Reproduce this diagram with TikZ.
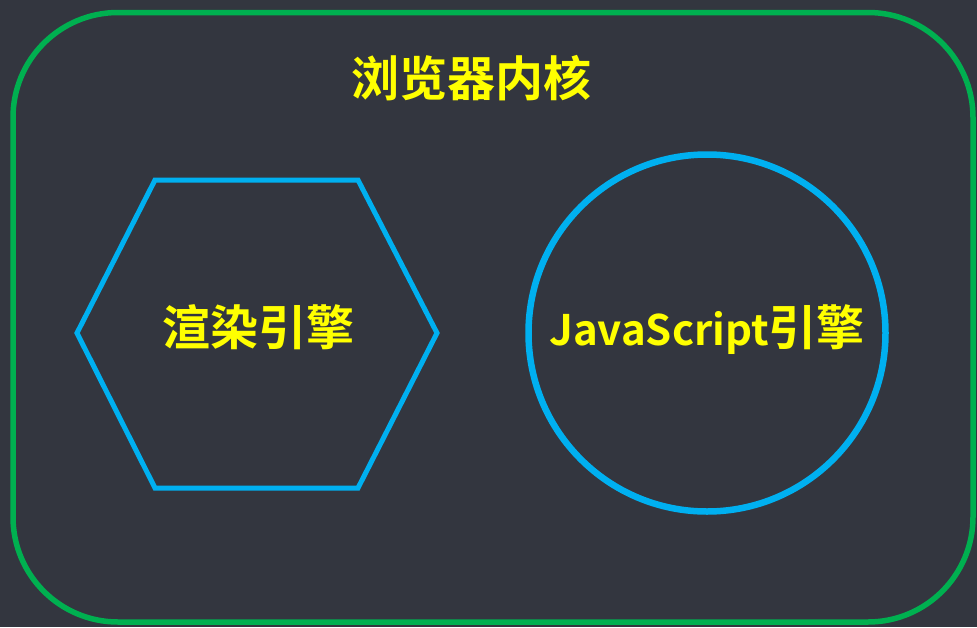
\documentclass[tikz,border=0pt]{standalone}
\usepackage{fontspec}
\newfontfamily\cjk{Noto Sans CJK SC Bold}
\definecolor{bg}{HTML}{33363F}
\definecolor{grn}{HTML}{00B050}
\definecolor{blu}{HTML}{00B0F0}
\definecolor{ylw}{HTML}{FFFF00}
\tikzset{
  lbl/.style={text=ylw, font=\cjk\fontsize{48}{52}\selectfont, inner sep=0pt},
  shapeline/.style={draw=blu, line width=5pt},
}
\begin{document}
\begin{tikzpicture}[x=1pt,y=-1pt]
\fill[bg] (0,0) rectangle (977,627);
\useasboundingbox (0,0) rectangle (977,627);
\draw[grn, line width=5.5pt, rounded corners=105pt] (13,12.5) rectangle (973,622);
\node[lbl] (title) at (471,78) {浏览器内核};
\draw[shapeline, line join=miter] (77,333) -- (155,180) -- (358,180) -- (437,333) -- (358,488) -- (155,488) -- cycle;
\node[lbl] (render) at (258,327) {渲染引擎};
\node[draw=blu, line width=6.5pt, circle, minimum size=357pt, inner sep=0pt] (jscircle) at (707,333) {};
\node[lbl] (js) at (707,330) {{\fontsize{42}{46}\selectfont JavaScript}引擎};
\end{tikzpicture}
\end{document}
